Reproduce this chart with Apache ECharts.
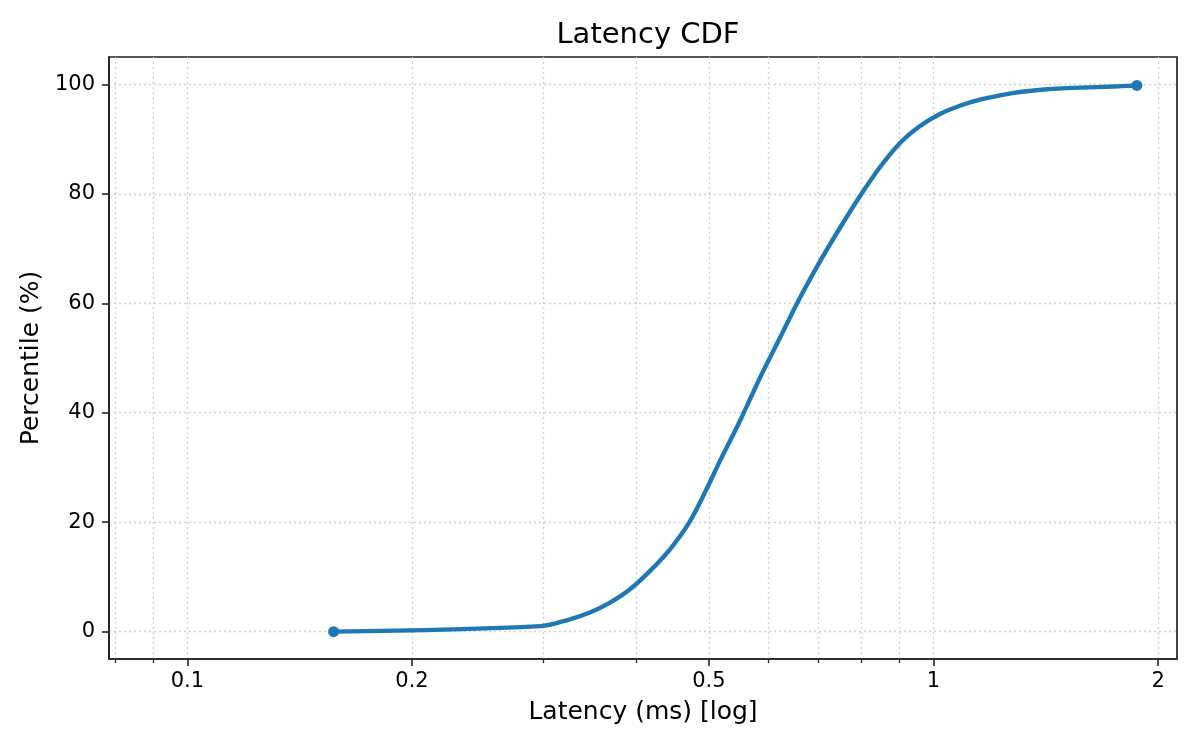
<!DOCTYPE html>
<html>
<head>
<meta charset="utf-8">
<script src="https://cdn.jsdelivr.net/npm/echarts@6/dist/echarts.min.js"></script>
<style>html,body{margin:0;padding:0;background:#fff}#c{width:1200px;height:750px}</style>
</head>
<body>
<div id="c"></div>
<script>
// Data
const latencyMs = [0.157, 0.297, 0.3256, 0.3463, 0.3684, 0.3919, 0.4169, 0.4434, 0.4717, 0.4966, 0.5173, 0.5502, 0.5853, 0.6226, 0.6622, 0.7048, 0.7494, 0.7971, 0.848, 0.9018, 0.9592, 1.0202, 1.085, 1.154, 1.228, 1.306, 1.418, 1.572, 1.742, 1.873];
const percentile = [0, 1.0, 2.26, 3.48, 5.3, 7.74, 11.1, 15.05, 20.2, 26.1, 31.2, 38.5, 46.4, 53.7, 61.0, 67.7, 73.8, 79.6, 84.9, 89.3, 92.4, 94.6, 96.1, 97.2, 98.0, 98.6, 99.1, 99.4, 99.6, 99.8];
const xMajorTicks = [0.1, 0.2, 0.5, 1, 2];
const xMinorTicks = [0.08, 0.09, 0.3, 0.4, 0.6, 0.7, 0.8, 0.9];
const yTicks = [0, 20, 40, 60, 80, 100];
const xRange = [0.0785, 2.12];
const yRange = [-5, 105];
const titleText = 'Latency CDF';
const xName = 'Latency (ms) [log]';
const yName = 'Percentile (%)';

const FONT = 'DejaVu Sans';
const AX = '#222222';
const GRID = '#cfcfcf';
const n = latencyMs.length;

const chart = echarts.init(document.getElementById('c'), null, {renderer: 'canvas'});
const gridLine = {show: true, lineStyle: {color: GRID, width: 1.3, type: [2, 3]}};

chart.setOption({
  animation: false,
  backgroundColor: '#ffffff',
  title: {
    text: titleText, left: 643, top: 16, textAlign: 'center',
    textStyle: {fontFamily: FONT, fontSize: 29, fontWeight: 'normal', color: '#000'}
  },
  grid: {left: 109, right: 23, top: 57, bottom: 91, containLabel: false, outerBoundsMode: 'none',
         show: true, borderColor: AX, borderWidth: 1.7, backgroundColor: 'transparent'},
  xAxis: [
    {
      type: 'log', logBase: 10, min: xRange[0], max: xRange[1], position: 'bottom',
      name: xName, nameLocation: 'middle', nameGap: 41,
      nameTextStyle: {fontFamily: FONT, fontSize: 25, color: '#000'},
      axisLine: {show: true, onZero: false, lineStyle: {color: AX, width: 1.7}},
      axisTick: {show: true, inside: false, length: 7, lineStyle: {color: AX, width: 1.6}, customValues: xMajorTicks},
      axisLabel: {show: true, margin: 12, fontFamily: FONT, fontSize: 21, color: '#000', customValues: xMajorTicks,
                  formatter: v => String(+Number(v).toPrecision(6))},
      splitLine: gridLine,
      minorTick: {show: false}, minorSplitLine: {show: false}
    },
    {
      type: 'log', logBase: 10, min: xRange[0], max: xRange[1], position: 'bottom',
      axisLine: {show: false, onZero: false},
      axisTick: {show: true, inside: false, length: 4, lineStyle: {color: AX, width: 1.3}, customValues: xMinorTicks},
      axisLabel: {show: false, customValues: xMinorTicks},
      splitLine: gridLine,
      minorTick: {show: false}, minorSplitLine: {show: false}
    }
  ],
  yAxis: {
    type: 'value', min: yRange[0], max: yRange[1],
    name: yName, nameLocation: 'middle', nameGap: 60,
    nameTextStyle: {fontFamily: FONT, fontSize: 25, color: '#000'},
    axisLine: {show: true, onZero: false, lineStyle: {color: AX, width: 1.7}},
    axisTick: {show: true, inside: false, length: 7, lineStyle: {color: AX, width: 1.6}, customValues: yTicks},
    axisLabel: {show: true, margin: 14, fontFamily: FONT, fontSize: 21, color: '#000', customValues: yTicks},
    splitLine: gridLine
  },
  series: [{
    type: 'line',
    xAxisIndex: 0,
    data: latencyMs.map((v, i) => [v, percentile[i]]),
    smooth: 0.35,
    symbol: 'circle',
    showSymbol: true,
    symbolSize: (val, p) => (p.dataIndex === 0 || p.dataIndex === n - 1) ? 11 : 0,
    lineStyle: {color: '#1f77b4', width: 4.4, join: 'round', cap: 'round'},
    itemStyle: {color: '#1f77b4'},
    emphasis: {disabled: true},
    z: 5
  }]
});
</script>
</body>
</html>
